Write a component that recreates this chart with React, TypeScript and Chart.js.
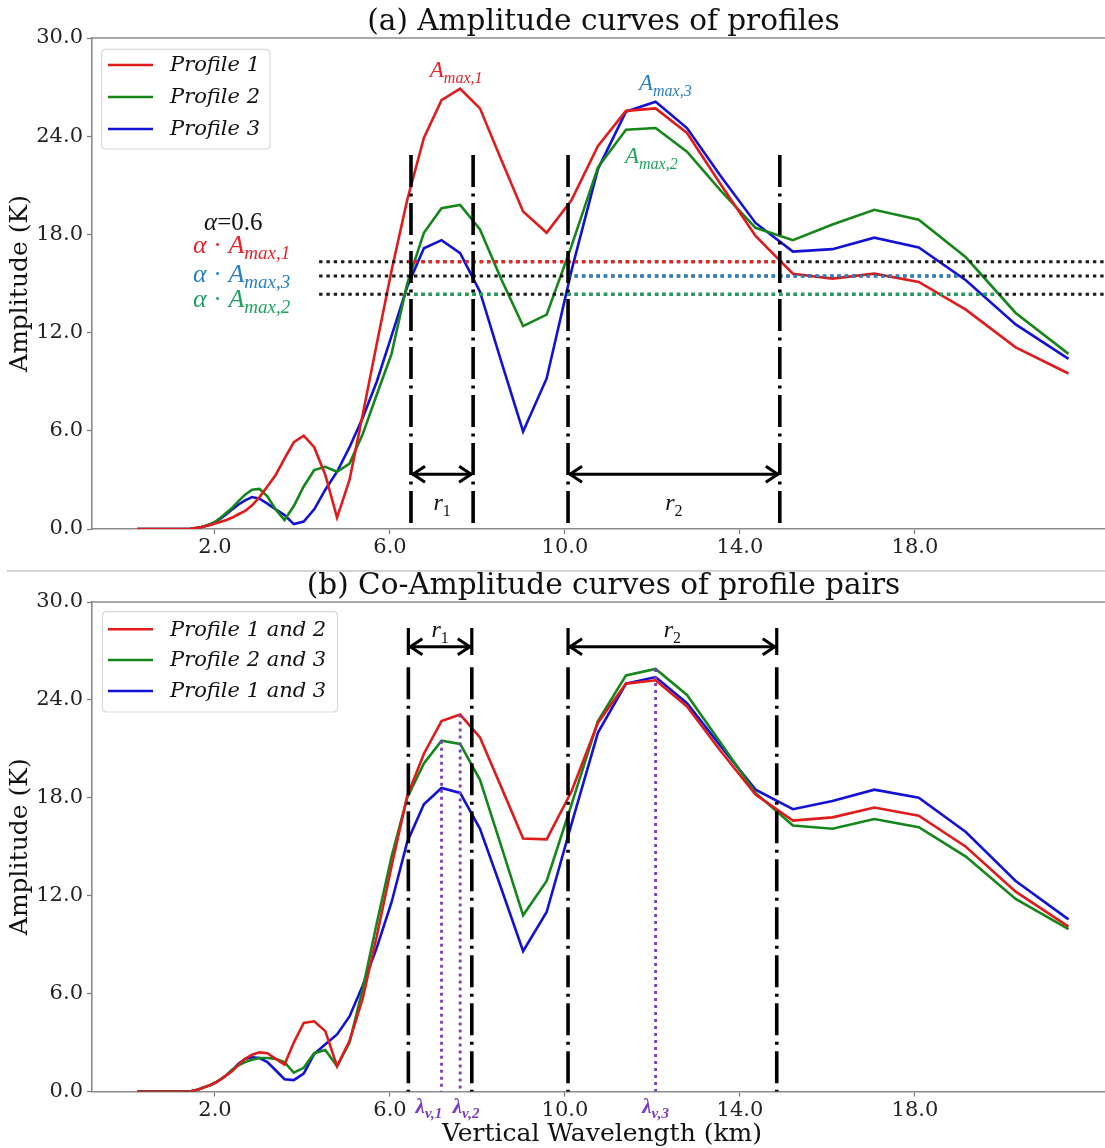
import React, { useEffect, useRef } from "react";
import { Chart, registerables } from "chart.js";

Chart.register(...registerables);

// ---------------- data ----------------
const wavelengthKm = [
  0.224, 0.238, 0.252, 0.267, 0.283, 0.299, 0.317, 0.336, 0.356, 0.377, 0.4, 0.423,
  0.449, 0.475, 0.504, 0.534, 0.565, 0.599, 0.634, 0.672, 0.712, 0.755, 0.799, 0.847,
  0.897, 0.951, 1.007, 1.067, 1.13, 1.198, 1.269, 1.344, 1.424, 1.509, 1.599, 1.694,
  1.794, 1.901, 2.014, 2.134, 2.261, 2.395, 2.538, 2.689, 2.848, 3.018, 3.197, 3.387,
  3.589, 3.802, 4.028, 4.268, 4.522, 4.79, 5.075, 5.377, 5.697, 6.036, 6.394, 6.775,
  7.178, 7.604, 8.057, 8.536, 9.043, 9.581, 10.15, 10.754, 11.394, 12.071, 12.789, 13.549,
  14.355, 15.209, 16.113, 17.071, 18.086, 19.162, 20.301, 21.509,
];

const profile1 = [
  0, 0, 0, 0, 0, 0, 0, 0, 0, 0, 0, 0,
  0, 0, 0, 0, 0, 0, 0, 0, 0, 0, 0, 0,
  0, 0, 0, 0, 0, 0, 0, 0, 0, 0.05, 0.08, 0.12,
  0.18, 0.25, 0.35, 0.45, 0.55, 0.7, 0.9, 1.1, 1.45, 1.95, 2.6, 3.3,
  4.3, 5.3, 5.7, 5.0, 3.3, 0.7, 3.0, 7.0, 11.3, 15.8, 20.1, 23.9,
  26.2, 26.9, 25.7, 22.6, 19.4, 18.1, 20.1, 23.4, 25.55, 25.7, 24.2, 21.1,
  17.9, 15.6, 15.3, 15.6, 15.1, 13.4, 11.1, 9.5,
];
const profile2 = [
  0, 0, 0, 0, 0, 0, 0, 0, 0, 0, 0, 0,
  0, 0, 0, 0, 0, 0, 0, 0, 0, 0, 0, 0,
  0, 0, 0, 0, 0, 0, 0, 0, 0, 0.05, 0.08, 0.12,
  0.2, 0.3, 0.45, 0.7, 1.0, 1.3, 1.7, 2.1, 2.4, 2.45, 2.0, 1.2,
  0.55, 1.4, 2.6, 3.6, 3.8, 3.5, 4.0, 5.8, 8.2, 10.7, 15.0, 18.1,
  19.6, 19.8, 18.3, 15.3, 12.4, 13.1, 17.3, 22.1, 24.4, 24.5, 23.05, 20.7,
  18.4, 17.65, 18.6, 19.5, 18.9, 16.6, 13.2, 10.7,
];
const profile3 = [
  0, 0, 0, 0, 0, 0, 0, 0, 0, 0, 0, 0,
  0, 0, 0, 0, 0, 0, 0, 0, 0, 0, 0, 0,
  0, 0, 0, 0, 0, 0, 0, 0, 0, 0.05, 0.08, 0.12,
  0.2, 0.3, 0.45, 0.65, 0.9, 1.2, 1.5, 1.75, 1.95, 1.85, 1.55, 1.2,
  0.85, 0.3, 0.45, 1.2, 2.4, 3.5, 5.0, 6.8, 9.0, 11.8, 14.8, 17.15,
  17.65, 16.85, 14.5, 10.3, 5.95, 9.2, 15.8, 22.0, 25.5, 26.1, 24.5, 21.6,
  18.7, 16.95, 17.1, 17.8, 17.2, 15.2, 12.5, 10.4,
];

const pair12 = [
  0, 0, 0, 0, 0, 0, 0, 0, 0, 0, 0, 0,
  0, 0, 0, 0, 0, 0, 0, 0, 0, 0, 0, 0,
  0, 0, 0, 0, 0, 0, 0, 0, 0, 0.05, 0.1, 0.2,
  0.3, 0.4, 0.55, 0.75, 1.0, 1.25, 1.65, 2.0, 2.25, 2.4, 2.35, 2.0,
  1.65, 3.0, 4.2, 4.3, 3.7, 1.55, 3.1, 5.7, 9.5, 13.8, 18.1, 20.7,
  22.7, 23.1, 21.7, 18.7, 15.5, 15.45, 18.4, 22.6, 25.0, 25.2, 23.6, 20.9,
  18.2, 16.6, 16.8, 17.4, 16.9, 15.0, 12.25, 10.1,
];
const pair23 = [
  0, 0, 0, 0, 0, 0, 0, 0, 0, 0, 0, 0,
  0, 0, 0, 0, 0, 0, 0, 0, 0, 0, 0, 0,
  0, 0, 0, 0, 0, 0, 0, 0, 0, 0.05, 0.1, 0.2,
  0.3, 0.4, 0.55, 0.75, 1.0, 1.35, 1.6, 1.8, 1.95, 2.05, 2.05, 2.0,
  1.8, 1.15, 1.45, 2.35, 2.55, 1.55, 3.0, 6.3, 10.3, 14.4, 18.0, 20.1,
  21.5, 21.3, 19.1, 15.1, 10.8, 12.9, 17.6, 22.7, 25.5, 25.9, 24.3, 21.4,
  18.3, 16.3, 16.1, 16.7, 16.2, 14.4, 11.8, 9.95,
];
const pair13 = [
  0, 0, 0, 0, 0, 0, 0, 0, 0, 0, 0, 0,
  0, 0, 0, 0, 0, 0, 0, 0, 0, 0, 0, 0,
  0, 0, 0, 0, 0, 0, 0, 0, 0, 0.05, 0.1, 0.2,
  0.3, 0.4, 0.55, 0.75, 1.0, 1.3, 1.7, 2.0, 2.1, 2.05, 1.8, 1.3,
  0.75, 0.7, 1.1, 2.3, 2.9, 3.5, 4.6, 6.5, 8.8, 11.6, 15.3, 17.6,
  18.6, 18.3, 16.1, 12.5, 8.6, 11.0, 16.4, 22.0, 25.0, 25.4, 23.8, 21.2,
  18.5, 17.3, 17.8, 18.5, 18.0, 15.9, 12.9, 10.55,
];

const profileLabels = ["Profile 1", "Profile 2", "Profile 3"];
const pairLabels = ["Profile 1 and 2", "Profile 2 and 3", "Profile 1 and 3"];
const xTickValues = [2, 6, 10, 14, 18];
const yTickValues = [0, 6, 12, 18, 24, 30];

// annotation values (data units)
const rangeEdgesA = [6.48, 7.9, 10.07, 14.91];
const rangeEdgesB = [6.42, 7.87, 10.07, 14.84];
const alphaLevels = [16.33, 15.46, 14.34]; // alpha*Amax,1 ; alpha*Amax,3 ; alpha*Amax,2
const alphaSpans = [
  [[6.42, 14.91]],
  [[10.07, 19.02]],
  [[6.55, 8.55], [9.95, 19.91]],
];
const lambdaV = [7.178, 7.604, 12.071];
const lambdaPeakAmp = [21.5, 23.1, 25.9];
const lambdaLabelX = [6.89, 7.74, 12.07];

// ---------------- styling ----------------
const X_MIN = -0.811;
const X_MAX = 22.343;
const SERIF = '"DejaVu Serif", serif';
const MATH = '"Liberation Serif", "DejaVu Serif", serif';
const lineColors = ["#e01b1b", "#15861a", "#1212d6"];
const alphaColors = ["#ff1f1f", "#2a84c6", "#20a862"];
const PURPLE = "#7d3cc0";
const SPINE = "#8c8c8c";

type Part = { t: string; sub?: boolean; it?: boolean };

function drawMath(ctx: any, x: number, y: number, parts: Part[], size: number, subSize: number, color: string, opts: any = {}) {
  const fam = opts.family || MATH;
  const b = opts.bold ? "bold " : "";
  const fontFor = (p: Part) => `${p.it ? "italic " : ""}${b}${p.sub ? subSize : size}px ${fam}`;
  let total = 0;
  const widths = parts.map((p) => {
    ctx.font = fontFor(p);
    const w = ctx.measureText(p.t).width;
    total += w;
    return w;
  });
  let cx = opts.align === "center" ? x - total / 2 : x;
  ctx.fillStyle = color;
  ctx.textBaseline = "alphabetic";
  ctx.textAlign = "left";
  parts.forEach((p, i) => {
    ctx.font = fontFor(p);
    ctx.fillText(p.t, cx, p.sub ? y + size * 0.24 : y);
    cx += widths[i];
  });
}

function dottedH(ctx: any, xa: number, xb: number, yy: number, color: string, origin: number) {
  ctx.save();
  ctx.strokeStyle = color;
  ctx.lineWidth = 3;
  ctx.lineCap = "butt";
  ctx.setLineDash([3.4, 3.9]);
  ctx.lineDashOffset = xa - origin;
  ctx.beginPath();
  ctx.moveTo(xa, yy);
  ctx.lineTo(xb, yy);
  ctx.stroke();
  ctx.restore();
}

function dottedV(ctx: any, xx: number, ya: number, yb: number, color: string) {
  ctx.save();
  ctx.strokeStyle = color;
  ctx.lineWidth = 2.8;
  ctx.setLineDash([3, 4]);
  ctx.beginPath();
  ctx.moveTo(xx, ya);
  ctx.lineTo(xx, yb);
  ctx.stroke();
  ctx.restore();
}

function dashDotV(ctx: any, xx: number, ya: number, yb: number) {
  ctx.save();
  ctx.strokeStyle = "#000";
  ctx.lineWidth = 3.6;
  ctx.setLineDash([32, 6.5, 3, 6.5]);
  ctx.beginPath();
  ctx.moveTo(xx, ya);
  ctx.lineTo(xx, yb);
  ctx.stroke();
  ctx.restore();
}

function arrowH(ctx: any, xa: number, xb: number, yy: number, barTop?: number, barBottom?: number) {
  ctx.save();
  ctx.setLineDash([]);
  ctx.strokeStyle = "#000";
  ctx.lineWidth = 3;
  ctx.lineJoin = "miter";
  ctx.beginPath();
  ctx.moveTo(xa + 1, yy);
  ctx.lineTo(xb - 1, yy);
  ctx.stroke();
  const L = 14, W = 8;
  ctx.beginPath();
  ctx.moveTo(xa + L, yy - W);
  ctx.lineTo(xa + 2, yy);
  ctx.lineTo(xa + L, yy + W);
  ctx.moveTo(xb - L, yy - W);
  ctx.lineTo(xb - 2, yy);
  ctx.lineTo(xb - L, yy + W);
  ctx.stroke();
  if (barTop !== undefined && barBottom !== undefined) {
    ctx.lineWidth = 3.2;
    ctx.beginPath();
    ctx.moveTo(xa, barTop);
    ctx.lineTo(xa, barBottom);
    ctx.moveTo(xb, barTop);
    ctx.lineTo(xb, barBottom);
    ctx.stroke();
  }
  ctx.restore();
}

function drawLegend(ctx: any, ca: any, box: number[], rowsY: number[], labels: string[]) {
  const [bx, by, bw, bh] = box;
  const x0 = ca.left + bx, y0 = ca.top + by;
  ctx.save();
  ctx.fillStyle = "rgba(255,255,255,0.85)";
  ctx.strokeStyle = "#d9d9d9";
  ctx.lineWidth = 1.2;
  ctx.beginPath();
  const r = 4;
  ctx.moveTo(x0 + r, y0);
  ctx.lineTo(x0 + bw - r, y0);
  ctx.quadraticCurveTo(x0 + bw, y0, x0 + bw, y0 + r);
  ctx.lineTo(x0 + bw, y0 + bh - r);
  ctx.quadraticCurveTo(x0 + bw, y0 + bh, x0 + bw - r, y0 + bh);
  ctx.lineTo(x0 + r, y0 + bh);
  ctx.quadraticCurveTo(x0, y0 + bh, x0, y0 + bh - r);
  ctx.lineTo(x0, y0 + r);
  ctx.quadraticCurveTo(x0, y0, x0 + r, y0);
  ctx.closePath();
  ctx.fill();
  ctx.stroke();
  labels.forEach((lab, k) => {
    const yy = ca.top + rowsY[k];
    ctx.strokeStyle = lineColors[k];
    ctx.lineWidth = 2.6;
    ctx.beginPath();
    ctx.moveTo(ca.left + 16, yy);
    ctx.lineTo(ca.left + 61, yy);
    ctx.stroke();
    ctx.fillStyle = "#111";
    ctx.font = `italic 21px ${SERIF}`;
    ctx.textAlign = "left";
    ctx.textBaseline = "middle";
    ctx.fillText(lab, ca.left + 78, yy + 1);
  });
  ctx.restore();
}

function drawFrame(chart: any, title: string, titleBaseline: number, withXLabel: boolean, separator: boolean) {
  const { ctx, chartArea: ca } = chart;
  ctx.save();
  ctx.strokeStyle = SPINE;
  ctx.lineWidth = 1.6;
  ctx.beginPath();
  ctx.moveTo(ca.left, ca.top);
  ctx.lineTo(ca.right, ca.top);
  ctx.stroke();
  ctx.fillStyle = "#111";
  ctx.font = `29.5px ${SERIF}`;
  ctx.textAlign = "center";
  ctx.textBaseline = "alphabetic";
  ctx.fillText(title, 603.5, titleBaseline);
  ctx.save();
  ctx.translate(20, (ca.top + ca.bottom) / 2);
  ctx.rotate(-Math.PI / 2);
  ctx.font = `25px ${SERIF}`;
  ctx.textBaseline = "middle";
  ctx.textAlign = "center";
  ctx.fillText("Amplitude (K)", 0, 0);
  ctx.restore();
  if (withXLabel) {
    ctx.font = `25px ${SERIF}`;
    ctx.textAlign = "center";
    ctx.textBaseline = "alphabetic";
    ctx.fillText("Vertical Wavelength (km)", 602, ca.bottom + 49);
  }
  if (separator) {
    ctx.strokeStyle = "#d4d4d4";
    ctx.lineWidth = 2;
    ctx.beginPath();
    ctx.moveTo(7, chart.height - 1);
    ctx.lineTo(chart.width, chart.height - 1);
    ctx.stroke();
  }
  ctx.restore();
}

function annotateA(chart: any) {
  const { ctx } = chart;
  const X = chart.scales.x, Y = chart.scales.y;
  const px = (v: number) => X.getPixelForValue(v);
  const py = (v: number) => Y.getPixelForValue(v);
  ctx.save();
  const xs = px(4.38), xe = px(X_MAX);
  alphaLevels.forEach((lv, k) => {
    const yy = py(lv);
    dottedH(ctx, xs, xe, yy, "#1a1a1a", xs);
    alphaSpans[k].forEach(([a, b]) => dottedH(ctx, px(a), px(b), yy, alphaColors[k], xs));
  });
  rangeEdgesA.forEach((e) => dashDotV(ctx, px(e), py(22.85), py(0)));
  arrowH(ctx, px(rangeEdgesA[0]), px(rangeEdgesA[1]), py(3.35));
  arrowH(ctx, px(rangeEdgesA[2]), px(rangeEdgesA[3]), py(3.35));
  const rBase = py(1.16);
  drawMath(ctx, (px(rangeEdgesA[0]) + px(rangeEdgesA[1])) / 2, rBase, [{ t: "r", it: true }, { t: "1", sub: true }], 24, 16, "#111", { align: "center" });
  drawMath(ctx, (px(rangeEdgesA[2]) + px(rangeEdgesA[3])) / 2, rBase, [{ t: "r", it: true }, { t: "2", sub: true }], 24, 16, "#111", { align: "center" });
  // alpha texts
  drawMath(ctx, px(1.75), py(18.27), [{ t: "α", it: true }, { t: "=0.6" }], 25, 17, "#111");
  const amax = (n: string): Part[] => [{ t: "α", it: true }, { t: " · " }, { t: "A", it: true }, { t: "max," + n, it: true, sub: true }];
  drawMath(ctx, px(1.5), py(16.86), amax("1"), 26, 19, "#e8232a");
  drawMath(ctx, px(1.5), py(15.09), amax("3"), 26, 19, "#2a7fc2");
  drawMath(ctx, px(1.5), py(13.56), amax("2"), 26, 19, "#1fa35c");
  const peak = (n: string): Part[] => [{ t: "A", it: true }, { t: "max," + n, it: true, sub: true }];
  drawMath(ctx, px(6.91), py(27.61), peak("1"), 23, 16, "#e8232a");
  drawMath(ctx, px(11.69), py(26.82), peak("3"), 23, 16, "#2a7fc2");
  drawMath(ctx, px(11.37), py(22.36), peak("2"), 23, 16, "#1fa35c");
  drawLegend(ctx, chart.chartArea, [9.7, 11.3, 168.3, 99.7], [27, 59, 91], profileLabels);
  ctx.restore();
}

function annotateB(chart: any) {
  const { ctx } = chart;
  const X = chart.scales.x, Y = chart.scales.y;
  const px = (v: number) => X.getPixelForValue(v);
  const py = (v: number) => Y.getPixelForValue(v);
  ctx.save();
  rangeEdgesB.forEach((e) => dashDotV(ctx, px(e), py(26.0), py(0)));
  lambdaV.forEach((lv, k) => dottedV(ctx, px(lv), py(lambdaPeakAmp[k]), py(0), PURPLE));
  arrowH(ctx, px(rangeEdgesB[0]), px(rangeEdgesB[1]), py(27.25), py(28.4), py(26.75));
  arrowH(ctx, px(rangeEdgesB[2]), px(rangeEdgesB[3]), py(27.25), py(28.4), py(26.75));
  const rBase = py(27.85);
  drawMath(ctx, (px(rangeEdgesB[0]) + px(rangeEdgesB[1])) / 2, rBase, [{ t: "r", it: true }, { t: "1", sub: true }], 24, 16, "#111", { align: "center" });
  drawMath(ctx, (px(rangeEdgesB[2]) + px(rangeEdgesB[3])) / 2, rBase, [{ t: "r", it: true }, { t: "2", sub: true }], 24, 16, "#111", { align: "center" });
  const lb = chart.chartArea.bottom + 21;
  lambdaLabelX.forEach((lx, k) => {
    drawMath(ctx, px(lx), lb, [{ t: "λ", it: true }, { t: "v," + (k + 1), it: true, sub: true }], 21, 15, PURPLE, { align: "center", bold: true });
  });
  drawLegend(ctx, chart.chartArea, [10.5, 9.7, 235, 100.3], [27.3, 58, 89], pairLabels);
  ctx.restore();
}

function makeChart(canvas: HTMLCanvasElement, series: number[][], labels: string[], padTop: number, xAxisH: number, annotate: (c: any) => void, frame: (c: any) => void) {
  return new Chart(canvas, {
    type: "line",
    data: {
      datasets: series.map((s, k) => ({
        label: labels[k],
        data: wavelengthKm.map((w, i) => ({ x: w, y: s[i] })),
        borderColor: lineColors[k],
        backgroundColor: lineColors[k],
        borderWidth: 2.6,
        pointRadius: 0,
        tension: 0,
        fill: false,
      })),
    },
    options: {
      animation: false,
      responsive: false,
      devicePixelRatio: 1,
      events: [],
      layout: { autoPadding: false, padding: { top: padTop, left: 0, right: 0, bottom: 0 } },
      plugins: { legend: { display: false }, tooltip: { enabled: false }, title: { display: false } },
      scales: {
        x: {
          type: "linear",
          min: X_MIN,
          max: X_MAX,
          afterBuildTicks: (a: any) => { a.ticks = xTickValues.map((v) => ({ value: v })); },
          afterFit: (a: any) => { a.height = xAxisH; },
          ticks: {
            autoSkip: false, maxRotation: 0, minRotation: 0, padding: 1, color: "#222",
            font: { family: "DejaVu Serif", size: 21 },
            callback: (v: any) => Number(v).toFixed(1),
          },
          grid: { drawOnChartArea: false, drawTicks: true, tickLength: 5, tickWidth: 1.2, tickColor: "#777" },
          border: { display: true, color: SPINE, width: 1.6 },
        },
        y: {
          type: "linear",
          min: 0,
          max: 30,
          afterBuildTicks: (a: any) => { a.ticks = yTickValues.map((v) => ({ value: v })); },
          afterFit: (a: any) => { a.width = 92; },
          ticks: {
            padding: 4, color: "#222",
            font: { family: "DejaVu Serif", size: 21 },
            callback: (v: any) => Number(v).toFixed(1),
          },
          grid: { drawOnChartArea: false, drawTicks: true, tickLength: 5, tickWidth: 1.2, tickColor: "#777" },
          border: { display: true, color: SPINE, width: 1.6 },
        },
      },
    } as any,
    plugins: [{ id: "annot", afterDatasetsDraw: annotate, afterDraw: frame }],
  } as any);
}

export default function App() {
  const topRef = useRef<HTMLCanvasElement>(null);
  const botRef = useRef<HTMLCanvasElement>(null);
  useEffect(() => {
    let charts: any[] = [];
    let cancelled = false;
    const fontsReady = (document as any).fonts
      ? Promise.all([
          (document as any).fonts.load(`21px "DejaVu Serif"`),
          (document as any).fonts.load(`italic 21px "DejaVu Serif"`),
          (document as any).fonts.load(`italic 21px "Liberation Serif"`),
          (document as any).fonts.load(`bold italic 21px "Liberation Serif"`),
          (document as any).fonts.load(`21px "Liberation Serif"`),
        ]).catch(() => null)
      : Promise.resolve(null);
    fontsReady.then(() => {
      if (cancelled || !topRef.current || !botRef.current) return;
      charts.push(
        makeChart(topRef.current, [profile1, profile2, profile3], profileLabels, 38, 43, annotateA, (c: any) =>
          drawFrame(c, "(a) Amplitude curves of profiles", 30, false, true)
        )
      );
      charts.push(
        makeChart(botRef.current, [pair12, pair23, pair13], pairLabels, 30, 56.5, annotateB, (c: any) =>
          drawFrame(c, "(b) Co-Amplitude curves of profile pairs", 22, true, false)
        )
      );
    });
    return () => {
      cancelled = true;
      charts.forEach((c) => c.destroy());
      charts = [];
    };
  }, []);
  return (
    <div style={{ position: "absolute", left: 0, top: 0, width: 1105, height: 1148, background: "#fff", overflow: "hidden" }}>
      <canvas ref={topRef} width={1105} height={572} style={{ position: "absolute", left: 0, top: 0, width: 1105, height: 572 }} />
      <canvas ref={botRef} width={1105} height={576} style={{ position: "absolute", left: 0, top: 572, width: 1105, height: 576 }} />
    </div>
  );
}
